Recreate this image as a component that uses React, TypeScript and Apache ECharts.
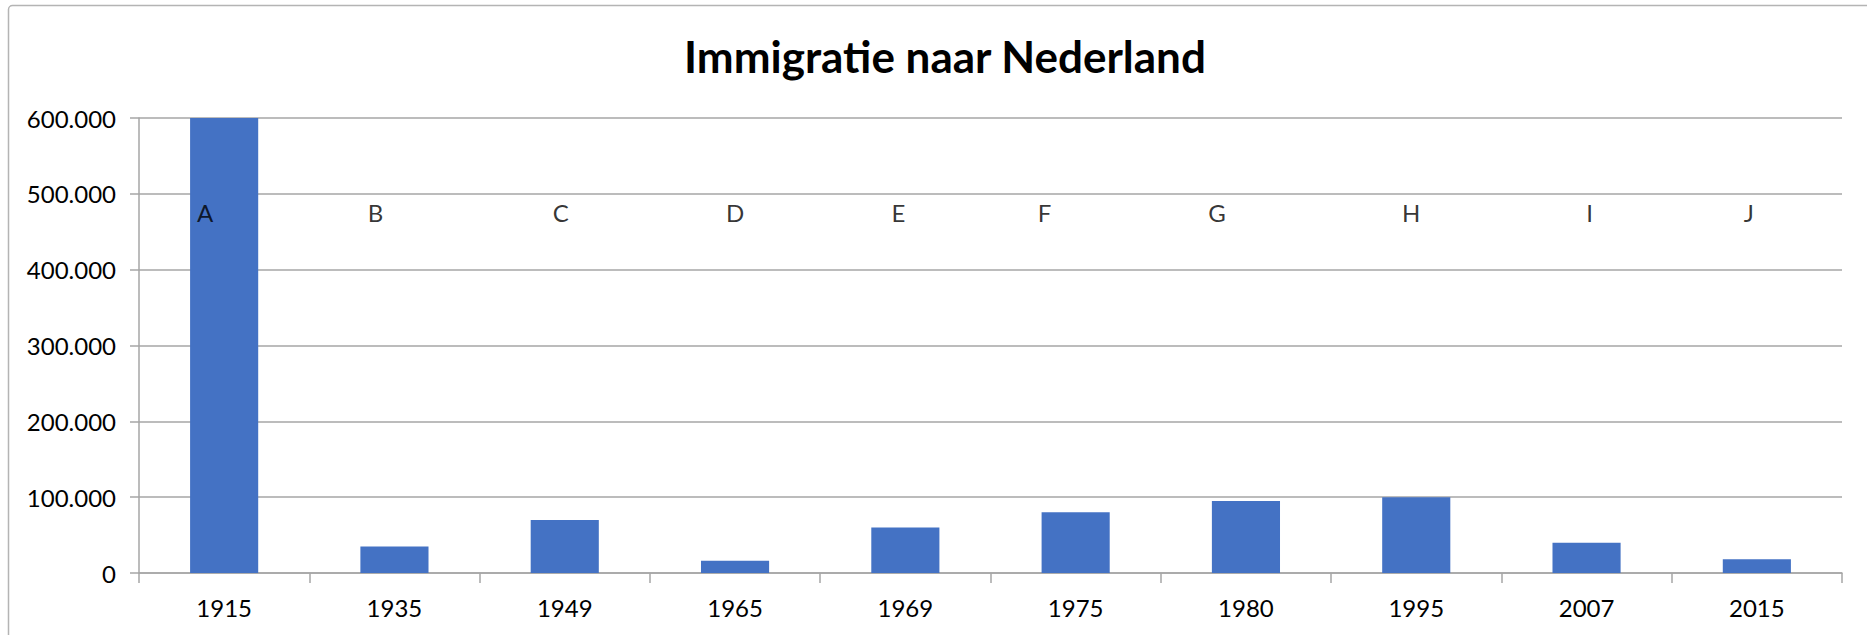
import React, { useEffect, useRef } from "react";
import * as echarts from "echarts";

const years = ["1915", "1935", "1949", "1965", "1969", "1975", "1980", "1995", "2007", "2015"];
const immigrants = [600000, 35000, 70000, 16000, 60000, 80000, 95000, 100000, 40000, 18000];
const letters = ["A", "B", "C", "D", "E", "F", "G", "H", "I", "J"];
const letterLevel = 476000;
const yMin = 0;
const yMax = 600000;
const yStep = 100000;

// horizontal nudges (px) for the letter annotations, as placed in the source chart
const letterShift = [-19, -19, -4, 0, -7, -31, -29, -5, 3, -8];

const FONT = "Lato, 'Open Sans', sans-serif";

function fmt(v: number): string {
  return String(v).replace(/\B(?=(\d{3})+(?!\d))/g, ".");
}

export default function App() {
  const ref = useRef<HTMLDivElement>(null);

  useEffect(() => {
    document.body.style.margin = "0";
    if (!ref.current) return;
    const chart = echarts.init(ref.current, undefined, { renderer: "svg" });
    chart.setOption({
      animation: false,
      backgroundColor: "#ffffff",
      title: {
        text: "Immigratie naar Nederland",
        left: 940,
        textAlign: "center",
        top: 29,
        textStyle: {
          fontFamily: FONT,
          fontWeight: "bold",
          fontSize: 44,
          color: "#000000",
        },
      },
      graphic: [
        {
          type: "rect",
          silent: true,
          shape: { x: 8.5, y: 5.5, width: 2000, height: 1000, r: 4 },
          style: { fill: "none", stroke: "#b4b4b4", lineWidth: 1.5 },
          z: -1,
        },
      ],
      grid: { left: 139, right: 25, top: 118, bottom: 62, containLabel: false },
      xAxis: {
        type: "category",
        data: years,
        boundaryGap: true,
        axisLine: { show: true, lineStyle: { color: "#a6a6a6", width: 1.5 } },
        axisTick: { show: true, alignWithLabel: false, length: 10, lineStyle: { color: "#a6a6a6", width: 1.5 } },
        axisLabel: { color: "#000000", fontFamily: FONT, fontSize: 24, margin: 22 },
        splitLine: { show: false },
      },
      yAxis: {
        type: "value",
        min: yMin,
        max: yMax,
        interval: yStep,
        axisLine: { show: true, lineStyle: { color: "#a6a6a6", width: 1.5 } },
        axisTick: { show: true, inside: false, length: 9, lineStyle: { color: "#a6a6a6", width: 1.5 } },
        axisLabel: {
          color: "#000000",
          fontFamily: FONT,
          fontSize: 24,
          margin: 23,
          formatter: (v: number) => fmt(v),
        },
        splitLine: { show: true, lineStyle: { color: "#a6a6a6", width: 1.5 } },
      },
      series: [
        {
          type: "bar",
          data: immigrants,
          barCategoryGap: "60%",
          itemStyle: { color: "#4472C4" },
          z: 2,
        },
        {
          type: "scatter",
          symbolSize: 0,
          silent: true,
          z: 5,
          data: letters.map((_, i) => ({
            value: letterLevel,
            label: { offset: [letterShift[i], 0] },
          })),
          label: {
            show: true,
            position: "inside",
            formatter: (p: any) => letters[p.dataIndex],
            color: "#000000",
            fontFamily: FONT,
            fontSize: 24,
          },
        },
      ],
    });
    return () => chart.dispose();
  }, []);

  return <div ref={ref} style={{ width: 1867, height: 635 }} />;
}
